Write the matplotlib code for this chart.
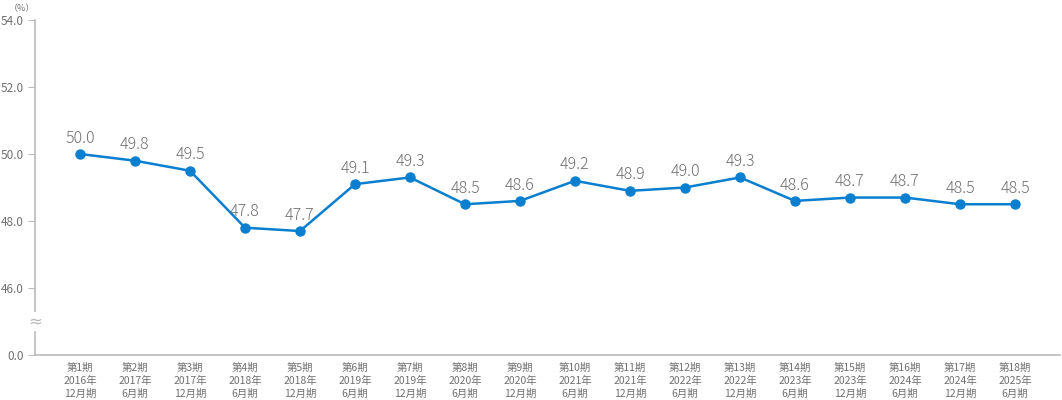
import matplotlib.pyplot as plt
import numpy as np

plt.rcParams['font.family'] = ['Noto Sans CJK JP', 'DejaVu Sans']

periods = [f"第{i}期" for i in range(1, 19)]
dates = ["2016年\n12月期", "2017年\n6月期", "2017年\n12月期", "2018年\n6月期", "2018年\n12月期",
         "2019年\n6月期", "2019年\n12月期", "2020年\n6月期", "2020年\n12月期", "2021年\n6月期",
         "2021年\n12月期", "2022年\n6月期", "2022年\n12月期", "2023年\n6月期", "2023年\n12月期",
         "2024年\n6月期", "2024年\n12月期", "2025年\n6月期"]
values = [50.0, 49.8, 49.5, 47.8, 47.7, 49.1, 49.3, 48.5, 48.6, 49.2,
          48.9, 49.0, 49.3, 48.6, 48.7, 48.7, 48.5, 48.5]
y_ticks = [44.0, 46.0, 48.0, 50.0, 52.0, 54.0]
y_labels = ["0.0", "46.0", "48.0", "50.0", "52.0", "54.0"]

grey = '#bbbbbb'
blue = '#0a7fcf'
txt = '#707070'

fig = plt.figure(figsize=(10.62, 4.0), dpi=100)
ax = fig.add_axes([35 / 1062, 45 / 400, 1025 / 1062, 335 / 400])
x = np.arange(len(values))
ax.plot(x, values, color=blue, lw=1.8, marker='o', ms=6.5, zorder=3)
for xi, v in zip(x, values):
    ax.text(xi, v + 0.22, f"{v:.1f}", ha='center', va='bottom', fontsize=11.5,
            color=txt, fontweight='light')

ax.set_xlim(-45 / 55, 17 + 45 / 55)
ax.set_ylim(44, 54)
ax.set_yticks(y_ticks)
ax.set_yticklabels(y_labels, fontsize=8.5, color=txt)
ax.set_xticks(x)
ax.set_xticklabels([f"{p}\n{d}" for p, d in zip(periods, dates)], fontsize=7.5, color=txt, linespacing=1.3)
ax.tick_params(axis='x', length=0, pad=6)
ax.tick_params(axis='y', length=5, color=grey, pad=3)
for s in ['top', 'right']:
    ax.spines[s].set_visible(False)
for s in ['left', 'bottom']:
    ax.spines[s].set_color(grey)
    ax.spines[s].set_linewidth(1.2)

# axis break mark
ax.text(0, 45.0, "≈", transform=ax.get_yaxis_transform(), ha='center', va='center',
        fontsize=12, color=grey, family='DejaVu Sans',
        bbox=dict(facecolor='white', edgecolor='none', pad=0.5))
fig.text(22 / 1062, 1 - 4 / 400, "（%）", ha='center', va='top', fontsize=6.5, color=txt)

fig.savefig("out.png", dpi=100)
